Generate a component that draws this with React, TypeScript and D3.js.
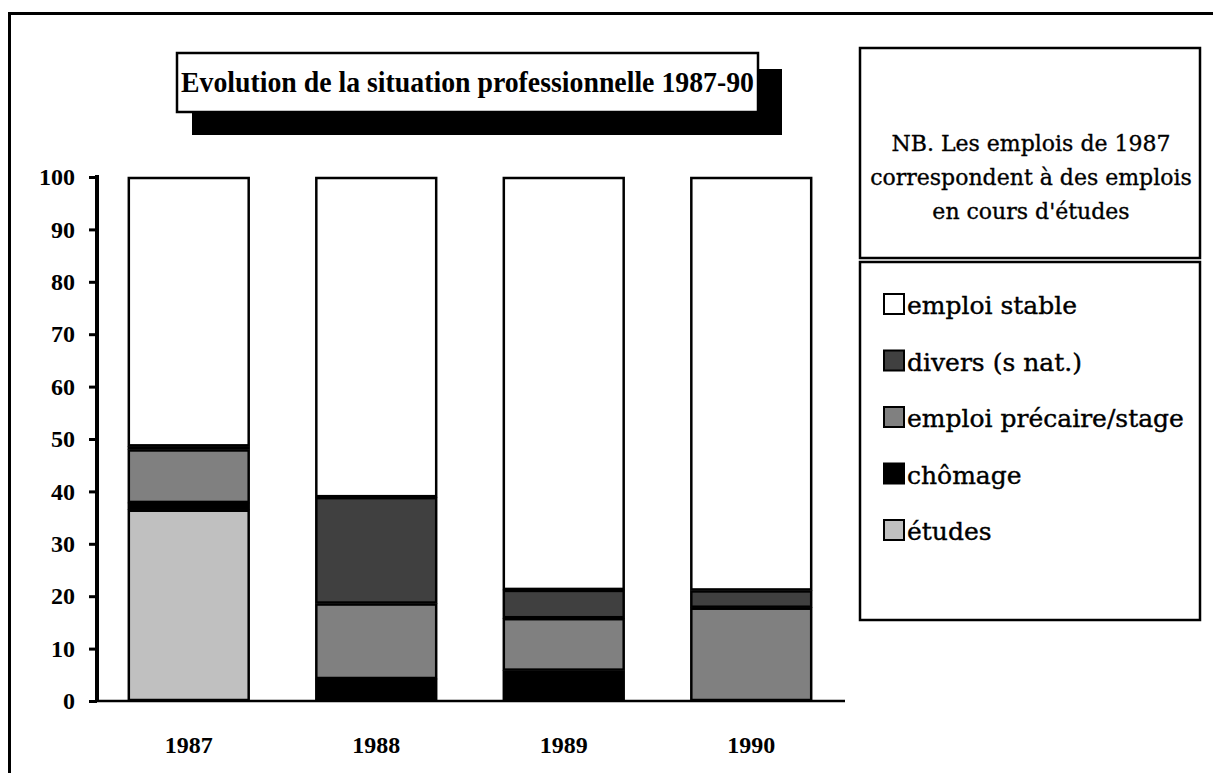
import React, { useEffect, useRef } from 'react';
import * as d3 from 'd3';

// (percent of each year group)
const years = ["1987", "1988", "1989", "1990"];
const etudes = [36.5, 0, 0, 0];
const chomage = [1.3, 4.2, 5.8, 0];
const precaire = [10.2, 14.4, 10.0, 17.8];
const divers = [0.6, 20.3, 5.4, 3.3];
const stable = [51.4, 61.1, 78.8, 78.9];

const seriesKeys = ["études", "chômage", "emploi précaire/stage", "divers (s nat.)", "emploi stable"];
const seriesColors = ["#c0c0c0", "#000000", "#808080", "#404040", "#ffffff"];
const legendOrder = ["emploi stable", "divers (s nat.)", "emploi précaire/stage", "chômage", "études"];
const yTicks = [0, 10, 20, 30, 40, 50, 60, 70, 80, 90, 100];

const titleText = "Evolution de la situation professionnelle 1987-90";
const noteLines = ["NB. Les emplois de 1987", "correspondent à des emplois", "en cours d'études"];

const App = () => {
    const svgRef = useRef<SVGSVGElement | null>(null);

    useEffect(() => {
        const width = 1213;
        const height = 773;
        const font = "'Liberation Serif', 'Times New Roman', serif";
        const bodyFont = "'DejaVu Serif', serif";

        const svg = d3.select(svgRef.current);
        svg.selectAll("*").remove();
        svg.attr("width", width).attr("height", height);

        svg.append("rect").attr("width", width).attr("height", height).attr("fill", "#fff");

        // outer frame (right and bottom edges run off the picture)
        svg.append("rect")
            .attr("x", 9.5).attr("y", 13.5)
            .attr("width", 1300).attr("height", 900)
            .attr("fill", "none").attr("stroke", "#000").attr("stroke-width", 3);

        // table of rows for the stack
        const rows = years.map((yr, i) => ({
            year: yr,
            "études": etudes[i],
            "chômage": chomage[i],
            "emploi précaire/stage": precaire[i],
            "divers (s nat.)": divers[i],
            "emploi stable": stable[i]
        }));
        const stacked = d3.stack<any>().keys(seriesKeys)(rows);

        const x = d3.scaleBand()
            .domain(years)
            .range([95, 845])
            .paddingInner(0.35)
            .paddingOuter(0.175);

        const y = d3.scaleLinear().domain([0, 100]).range([701, 177]);

        const color = d3.scaleOrdinal<string, string>().domain(seriesKeys).range(seriesColors);

        // bars
        const layer = svg.append("g")
            .selectAll("g")
            .data(stacked)
            .enter()
            .append("g")
            .attr("fill", d => color(d.key));

        layer.selectAll("rect")
            .data(d => d.filter(s => s[1] - s[0] > 0))
            .enter()
            .append("rect")
            .attr("x", d => (x(d.data.year) as number) + 1)
            .attr("width", x.bandwidth() - 2)
            .attr("y", d => y(d[1]) + 1)
            .attr("height", d => Math.max(0.5, y(d[0]) - y(d[1]) - 2))
            .attr("stroke", "#000")
            .attr("stroke-width", 2.5);

        // y axis
        const yAxis = svg.append("g")
            .attr("transform", "translate(97,0)")
            .call(d3.axisLeft(y).tickValues(yTicks).tickSize(8).tickPadding(14));
        yAxis.select(".domain").attr("stroke-width", 4).attr("d", "M0,175V701");
        yAxis.selectAll(".tick line").attr("stroke-width", 3);
        yAxis.selectAll("text")
            .style("font-family", font)
            .style("font-size", "24px")
            .style("font-weight", "bold")
            .attr("fill", "#000");

        // x axis
        const xAxis = svg.append("g")
            .attr("transform", "translate(0,701)")
            .call(d3.axisBottom(x).tickSize(0).tickPadding(35));
        xAxis.select(".domain").attr("d", "M97,0H845").attr("stroke-width", 2.5);
        xAxis.selectAll("text")
            .style("font-family", font)
            .style("font-size", "24px")
            .style("font-weight", "bold")
            .attr("fill", "#000");

        // title box with drop shadow
        svg.append("rect")
            .attr("x", 192).attr("y", 69).attr("width", 590).attr("height", 66)
            .attr("fill", "#000");
        svg.append("rect")
            .attr("x", 177).attr("y", 53).attr("width", 581).attr("height", 59)
            .attr("fill", "#fff").attr("stroke", "#000").attr("stroke-width", 2.5);
        svg.append("text")
            .attr("x", 181).attr("y", 92)
            .attr("textLength", 573)
            .attr("lengthAdjust", "spacingAndGlyphs")
            .style("font-family", font)
            .style("font-size", "30px")
            .style("font-weight", "bold")
            .text(titleText);

        // note box
        svg.append("rect")
            .attr("x", 860).attr("y", 48).attr("width", 340).attr("height", 210)
            .attr("fill", "#fff").attr("stroke", "#000").attr("stroke-width", 2.5);
        svg.append("g")
            .selectAll("text")
            .data(noteLines)
            .enter()
            .append("text")
            .attr("x", 1031)
            .attr("y", (d, i) => 151 + i * 34)
            .attr("text-anchor", "middle")
            .attr("stroke", "#000")
            .attr("stroke-width", 0.35)
            .style("font-family", bodyFont)
            .style("font-size", "22px")
            .text(d => d);

        // legend
        svg.append("rect")
            .attr("x", 860).attr("y", 262).attr("width", 340).attr("height", 358)
            .attr("fill", "#fff").attr("stroke", "#000").attr("stroke-width", 2.5);
        const legend = svg.append("g")
            .selectAll("g")
            .data(legendOrder)
            .enter()
            .append("g")
            .attr("transform", (d, i) => `translate(884,${305 + i * 56.5})`);
        legend.append("rect")
            .attr("x", 0).attr("y", -11)
            .attr("width", 20).attr("height", 20)
            .attr("fill", d => color(d))
            .attr("stroke", "#000")
            .attr("stroke-width", 2);
        legend.append("text")
            .attr("x", 23)
            .attr("y", 9)
            .attr("stroke", "#000")
            .attr("stroke-width", 0.4)
            .style("font-family", bodyFont)
            .style("font-size", "25px")
            .text(d => d);
    }, []);

    return (
        <div style={{ position: "absolute", left: 0, top: 0 }}>
            <svg ref={svgRef} style={{ display: "block" }}></svg>
        </div>
    );
};

export default App;
